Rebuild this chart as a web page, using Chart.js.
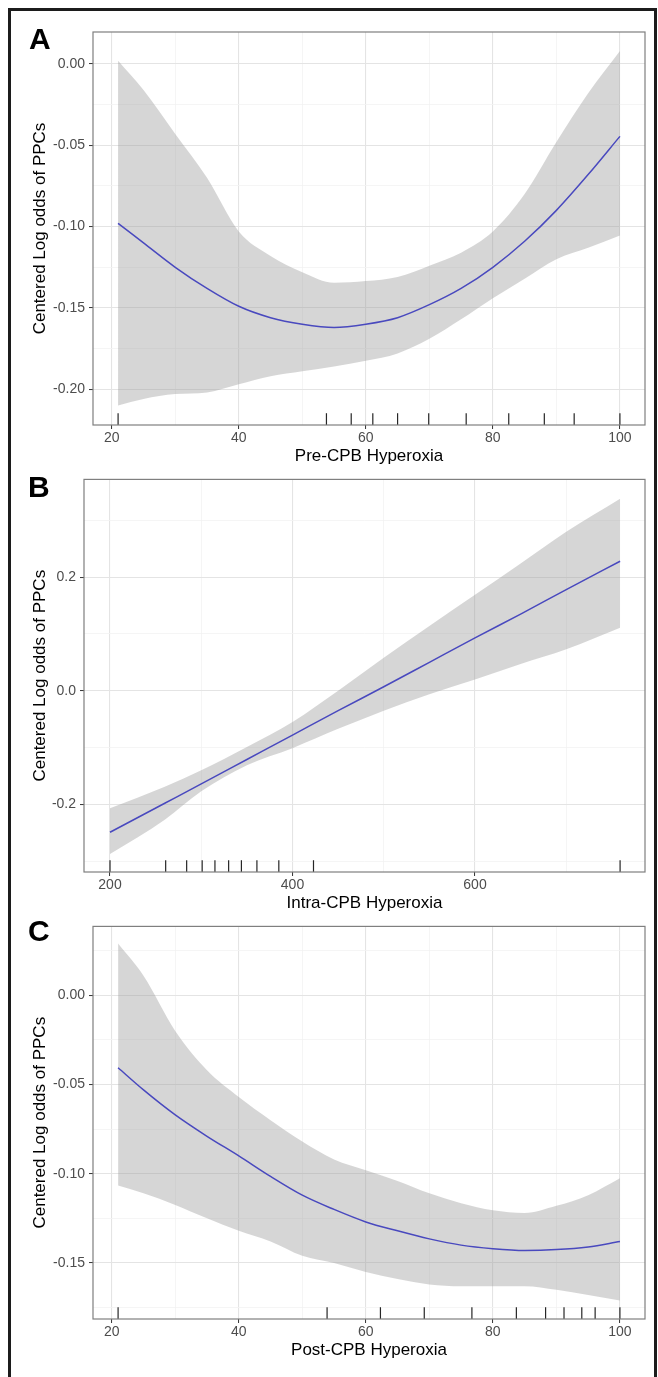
<!DOCTYPE html>
<html>
<head>
<meta charset="utf-8">
<script src="https://cdn.jsdelivr.net/npm/chart.js@4.4.1/dist/chart.umd.min.js"></script>
<style>
  html, body { margin: 0; padding: 0; overflow: hidden; background: #fff; }
  body { font-family: "Liberation Sans", Arial, sans-serif; }
  #frame { position: absolute; left: 8px; top: 8px; width: 643px; height: 1366px; border: 3px solid #1c1c1c; border-bottom: none; }
  .panel { position: absolute; left: 12px; }
  .tag { position: absolute; font-weight: bold; font-size: 30px; line-height: 30px; color: #000; }
</style>
</head>
<body>
<div id="frame"></div>
<canvas id="graficoA" class="panel" width="643" height="455" style="top:12px"></canvas>
<canvas id="graficoB" class="panel" width="643" height="447" style="top:467px"></canvas>
<canvas id="graficoC" class="panel" width="643" height="447" style="top:914px"></canvas>
<div class="tag" style="left:29px;top:24px">A</div>
<div class="tag" style="left:28px;top:472px">B</div>
<div class="tag" style="left:28px;top:916px">C</div>

<script>
// ---- Panel A: Pre-CPB hyperoxia ----
const xA = [21, 25, 30, 35, 40, 45, 50, 55, 60, 65, 70, 75, 80, 85, 90, 95, 100];
const fitA = [-0.098, -0.110, -0.125, -0.138, -0.149, -0.156, -0.160, -0.162, -0.160, -0.156, -0.148, -0.138, -0.125, -0.109, -0.090, -0.068, -0.0445];
const hiA = [0.002, -0.016, -0.043, -0.070, -0.103, -0.118, -0.128, -0.1345, -0.1335, -0.131, -0.124, -0.116, -0.103, -0.080, -0.048, -0.018, 0.008];
const loA = [-0.210, -0.206, -0.203, -0.202, -0.197, -0.192, -0.189, -0.186, -0.1825, -0.178, -0.169, -0.157, -0.144, -0.132, -0.120, -0.113, -0.1055];
const rugA = [21, 53.8, 57.7, 61.1, 65, 69.9, 75.8, 82.5, 88.1, 92.8, 100];
const xTicksA = [20, 40, 60, 80, 100];
const xMinorA = [30, 50, 70, 90];
const yTicksA = [0, -0.05, -0.10, -0.15, -0.20];
const yMinorA = [-0.025, -0.075, -0.125, -0.175];

// ---- Panel B: Intra-CPB hyperoxia ----
const xB = [200, 260, 300, 350, 400, 450, 500, 550, 600, 650, 700, 759];
const fitB = [-0.249, -0.198, -0.164, -0.121, -0.078, -0.035, 0.007, 0.050, 0.093, 0.135, 0.178, 0.228];
const hiB = [-0.207, -0.169, -0.140, -0.099, -0.055, 0.000, 0.058, 0.114, 0.169, 0.224, 0.280, 0.338];
const loB = [-0.2875, -0.227, -0.177, -0.131, -0.101, -0.067, -0.035, -0.006, 0.020, 0.047, 0.073, 0.111];
const rugB = [200, 261, 284, 301, 315, 330, 344, 361, 385, 423, 759];
const xTicksB = [200, 400, 600];
const xMinorB = [300, 500, 700];
const yTicksB = [0.2, 0.0, -0.2];
const yMinorB = [0.3, 0.1, -0.1, -0.3];

// ---- Panel C: Post-CPB hyperoxia ----
const xC = [21, 25, 30, 35, 40, 45, 50, 55, 60, 65, 70, 75, 80, 85, 90, 95, 100];
const fitC = [-0.0406, -0.053, -0.067, -0.079, -0.090, -0.1015, -0.112, -0.120, -0.127, -0.132, -0.1365, -0.140, -0.142, -0.143, -0.1425, -0.141, -0.138];
const hiC = [0.029, 0.011, -0.020, -0.042, -0.057, -0.070, -0.082, -0.092, -0.098, -0.104, -0.111, -0.1165, -0.1205, -0.122, -0.118, -0.112, -0.1025];
const loC = [-0.1066, -0.111, -0.1175, -0.125, -0.132, -0.138, -0.146, -0.150, -0.155, -0.159, -0.162, -0.163, -0.163, -0.163, -0.165, -0.168, -0.171];
const rugC = [21, 53.9, 62.3, 69.2, 76.7, 83.7, 88.3, 91.2, 94, 96.1, 100];
const xTicksC = [20, 40, 60, 80, 100];
const xMinorC = [30, 50, 70, 90];
const yTicksC = [0, -0.05, -0.10, -0.15];
const yMinorC = [0.025, -0.025, -0.075, -0.125, -0.175];

const yTitle = 'Centered Log odds of PPCs';
const FONT = '"Liberation Sans", Arial, sans-serif';

// rug marks + panel border
const extras = {
  id: 'extras',
  afterDatasetsDraw(chart, args, opts) {
    const ctx = chart.ctx;
    const a = chart.chartArea;
    const len = (a.bottom - a.top) * 0.03;
    ctx.save();
    ctx.strokeStyle = '#262626';
    ctx.lineWidth = 1.2;
    opts.rug.forEach(v => {
      const px = chart.scales.x.getPixelForValue(v);
      ctx.beginPath();
      ctx.moveTo(px, a.bottom);
      ctx.lineTo(px, a.bottom - len);
      ctx.stroke();
    });
    ctx.strokeStyle = '#7f7f7f';
    ctx.lineWidth = 1.2;
    ctx.strokeRect(a.left, a.top, a.right - a.left, a.bottom - a.top);
    ctx.restore();
  }
};

function gridTicks(major, minor) {
  return major.map(v => ({ value: v, m: true }))
    .concat(minor.map(v => ({ value: v, m: false })))
    .sort((p, q) => p.value - q.value);
}

function axis(major, minor, min, max, fmt, title, fit) {
  return {
    type: 'linear',
    min: min,
    max: max,
    afterBuildTicks: s => { s.ticks = gridTicks(major, minor); },
    afterFit: fit,
    border: { display: false },
    grid: {
      color: c => (c.tick && c.tick.m) ? '#e4e4e4' : '#f2f2f2',
      lineWidth: c => (c.tick && c.tick.m) ? 1.1 : 0.8,
      tickColor: c => (c.tick && c.tick.m) ? '#333333' : 'rgba(0,0,0,0)',
      tickLength: 4,
      tickWidth: 1
    },
    ticks: {
      autoSkip: false,
      maxRotation: 0,
      color: '#4d4d4d',
      font: { family: FONT, size: 14 },
      callback: (v, i, t) => t[i].m ? fmt(v) : ''
    },
    title: {
      display: true,
      text: title,
      color: '#000',
      font: { family: FONT, size: 17 }
    }
  };
}

function makePanel(id, p) {
  const xs = p.x;
  const xAxis = axis(p.xMajor, p.xMinor, p.xMin, p.xMax, v => String(v), p.xTitle, s => { s.height = 42; });
  xAxis.ticks.padding = 1;
  xAxis.title.padding = { top: 1, bottom: 0 };
  const yAxis = axis(p.yMajor, p.yMinor, p.yMin, p.yMax, v => v.toFixed(p.dec), yTitle, s => { s.width = p.yWidth; });
  yAxis.ticks.padding = 4;
  yAxis.title.padding = { top: 18, bottom: 0 };

  new Chart(document.getElementById(id), {
    type: 'line',
    data: {
      datasets: [
        {
          data: xs.map((x, i) => ({ x: x, y: p.hi[i] })),
          borderWidth: 0,
          pointRadius: 0,
          cubicInterpolationMode: 'monotone',
          backgroundColor: 'rgba(153,153,153,0.4)',
          fill: '+1'
        },
        {
          data: xs.map((x, i) => ({ x: x, y: p.lo[i] })),
          borderWidth: 0,
          pointRadius: 0,
          cubicInterpolationMode: 'monotone',
          fill: false
        },
        {
          data: xs.map((x, i) => ({ x: x, y: p.fit[i] })),
          borderColor: '#1414d8',
          borderWidth: 1.5,
          pointRadius: 0,
          cubicInterpolationMode: 'monotone',
          fill: false
        }
      ]
    },
    options: {
      responsive: false,
      animation: false,
      devicePixelRatio: 1,
      layout: { padding: { left: 0, right: 10, top: p.top, bottom: 0 } },
      plugins: {
        legend: { display: false },
        tooltip: { enabled: false },
        extras: { rug: p.rug }
      },
      scales: { x: xAxis, y: yAxis }
    },
    plugins: [extras]
  });
}

makePanel('graficoA', {
  x: xA, fit: fitA, hi: hiA, lo: loA, rug: rugA,
  xMajor: xTicksA, xMinor: xMinorA, yMajor: yTicksA, yMinor: yMinorA,
  xMin: 17.05, xMax: 103.95, yMin: -0.222, yMax: 0.0197,
  dec: 2, yWidth: 81, top: 20, xTitle: 'Pre-CPB Hyperoxia'
});

makePanel('graficoB', {
  x: xB, fit: fitB, hi: hiB, lo: loB, rug: rugB,
  xMajor: xTicksB, xMinor: xMinorB, yMajor: yTicksB, yMinor: yMinorB,
  xMin: 171.5, xMax: 786.3, yMin: -0.319, yMax: 0.372,
  dec: 1, yWidth: 72, top: 11, xTitle: 'Intra-CPB Hyperoxia'
});

makePanel('graficoC', {
  x: xC, fit: fitC, hi: hiC, lo: loC, rug: rugC,
  xMajor: xTicksC, xMinor: xMinorC, yMajor: yTicksC, yMinor: yMinorC,
  xMin: 17.05, xMax: 103.95, yMin: -0.1814, yMax: 0.0386,
  dec: 2, yWidth: 81, top: 12, xTitle: 'Post-CPB Hyperoxia'
});
</script>
</body>
</html>
